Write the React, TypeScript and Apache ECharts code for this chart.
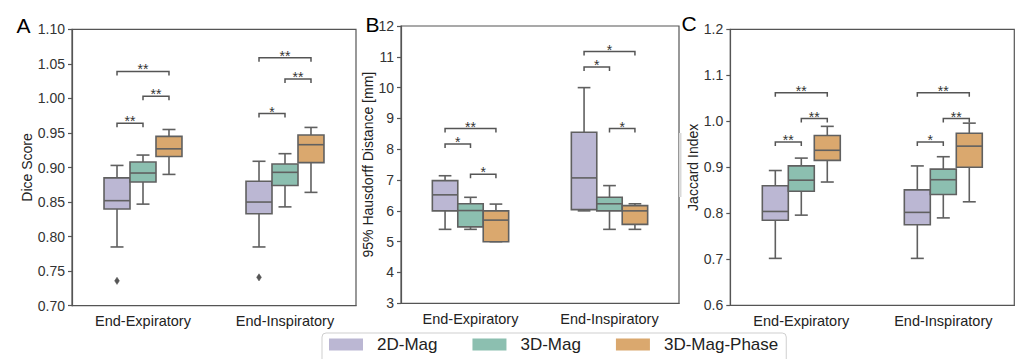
import React, { useEffect, useRef } from 'react';
import * as echarts from 'echarts';

const FONT = "'Liberation Sans', Arial, Helvetica, sans-serif";

const categories = ['End-Expiratory', 'End-Inspiratory'];
const groups = ['2D-Mag', '3D-Mag', '3D-Mag-Phase'];
const groupColors = ['#bbb7d3', '#8cbfb0', '#daa86e'];

// each row: [low whisker, q1, median, q3, high whisker] per category
const diceMag2D = [[0.785, 0.840, 0.852, 0.885, 0.903], [0.785, 0.833, 0.850, 0.880, 0.909]];
const diceMag3D = [[0.847, 0.879, 0.892, 0.908, 0.918], [0.843, 0.874, 0.893, 0.905, 0.920]];
const diceMagPhase = [[0.890, 0.916, 0.927, 0.945, 0.955], [0.864, 0.907, 0.933, 0.947, 0.958]];
// [category, group, value]
const diceOutliers = [[0, 0, 0.736], [1, 0, 0.741]];
// [category, fromGroup, toGroup, y]
const diceSig = [[0, 0, 1, 0.964], [0, 1, 2, 1.003], [0, 0, 2, 1.039], [1, 0, 1, 0.978], [1, 1, 2, 1.028], [1, 0, 2, 1.059]];
const diceSigLabels = ['**', '**', '**', '*', '**', '**'];

const hdMag2D = [[5.40, 6.0, 6.52, 6.98, 7.14], [6.0, 6.04, 7.07, 8.55, 10.0]];
const hdMag3D = [[5.40, 5.48, 6.01, 6.23, 6.44], [5.40, 6.0, 6.23, 6.44, 6.82]];
const hdMagPhase = [[5.0, 5.0, 5.70, 6.0, 6.22], [5.40, 5.56, 6.0, 6.17, 6.23]];
const hdOutliers: number[][] = [];
const hdSig = [[0, 1, 2, 7.19], [0, 0, 1, 8.17], [0, 0, 2, 8.67], [1, 1, 2, 8.67], [1, 0, 1, 10.67], [1, 0, 2, 11.17]];
const hdSigLabels = ['*', '*', '**', '*', '*', '*'];

const jacMag2D = [[0.702, 0.785, 0.804, 0.860, 0.893], [0.702, 0.775, 0.802, 0.851, 0.903]];
const jacMag3D = [[0.796, 0.848, 0.872, 0.903, 0.920], [0.790, 0.841, 0.873, 0.896, 0.923]];
const jacMagPhase = [[0.868, 0.915, 0.937, 0.969, 0.989], [0.825, 0.900, 0.946, 0.974, 0.996]];
const jacOutliers: number[][] = [];
const jacSig = [[0, 0, 1, 0.955], [0, 1, 2, 1.006], [0, 0, 2, 1.062], [1, 0, 1, 0.955], [1, 1, 2, 1.006], [1, 0, 2, 1.062]];
const jacSigLabels = ['**', '**', '**', '*', '**', '**'];

const panels = [
  { letter: 'A', title: 'Dice Score', min: 0.7, max: 1.1, interval: 0.05, digits: 2, boxes: [diceMag2D, diceMag3D, diceMagPhase], outliers: diceOutliers, sig: diceSig, sigLabels: diceSigLabels },
  { letter: 'B', title: '95% Hausdorff Distance [mm]', min: 3, max: 12, interval: 1, digits: 0, boxes: [hdMag2D, hdMag3D, hdMagPhase], outliers: hdOutliers, sig: hdSig, sigLabels: hdSigLabels },
  { letter: 'C', title: 'Jaccard Index', min: 0.6, max: 1.2, interval: 0.1, digits: 1, boxes: [jacMag2D, jacMag3D, jacMagPhase], outliers: jacOutliers, sig: jacSig, sigLabels: jacSigLabels },
];

const layout = [
  { left: 72, top: 29.3, width: 284, height: 276.4, nameGap: 36, letterX: 16.5, letterY: 27 },
  { left: 401, top: 26, width: 278, height: 277.3, nameGap: 22, letterX: 365.5, letterY: 26 },
  { left: 730.3, top: 29.3, width: 284, height: 276, nameGap: 27, letterX: 681.5, letterY: 24.5 },
];

const BOX_FRAC = 0.183;
const EDGE = '#606060';
const AXIS = '#555555';

function boxRenderer(gi: number, color: string) {
  return (params: any, api: any) => {
    const cat = api.value(0);
    const band = api.size([1, 0])[0];
    const bw = band * BOX_FRAC;
    const cx = api.coord([cat, api.value(3)])[0] + (gi - 1) * bw;
    const y = (k: number) => api.coord([cat, api.value(k)])[1];
    const yLow = y(1), yQ1 = y(2), yMed = y(3), yQ3 = y(4), yHigh = y(5);
    const ls = { stroke: EDGE, lineWidth: 1.6 };
    return {
      type: 'group',
      children: [
        { type: 'line', shape: { x1: cx, y1: yLow, x2: cx, y2: yQ1 }, style: ls },
        { type: 'line', shape: { x1: cx, y1: yQ3, x2: cx, y2: yHigh }, style: ls },
        { type: 'line', shape: { x1: cx - bw / 4, y1: yLow, x2: cx + bw / 4, y2: yLow }, style: ls },
        { type: 'line', shape: { x1: cx - bw / 4, y1: yHigh, x2: cx + bw / 4, y2: yHigh }, style: ls },
        { type: 'rect', shape: { x: cx - bw / 2, y: yQ3, width: bw, height: yQ1 - yQ3 }, style: { fill: color, stroke: EDGE, lineWidth: 1.6 } },
        { type: 'line', shape: { x1: cx - bw / 2, y1: yMed, x2: cx + bw / 2, y2: yMed }, style: ls },
      ],
    };
  };
}

function outlierRenderer(params: any, api: any) {
  const cat = api.value(0);
  const gi = api.value(1);
  const band = api.size([1, 0])[0];
  const bw = band * BOX_FRAC;
  const p = api.coord([cat, api.value(2)]);
  const cx = p[0] + (gi - 1) * bw;
  const cy = p[1];
  return {
    type: 'polygon',
    shape: { points: [[cx, cy - 3.6], [cx + 2.4, cy], [cx, cy + 3.6], [cx - 2.4, cy]] },
    style: { fill: '#555555', stroke: '#555555', lineWidth: 0.5 },
  };
}

function sigRenderer(labels: string[]) {
  return (params: any, api: any) => {
    const cat = api.value(0);
    const band = api.size([1, 0])[0];
    const bw = band * BOX_FRAC;
    const p = api.coord([cat, api.value(3)]);
    const x1 = p[0] + (api.value(1) - 1) * bw;
    const x2 = p[0] + (api.value(2) - 1) * bw;
    const yy = p[1];
    return {
      type: 'group',
      children: [
        { type: 'polyline', shape: { points: [[x1, yy + 4], [x1, yy], [x2, yy], [x2, yy + 4]] }, style: { stroke: '#555555', lineWidth: 1.5, fill: 'none' } },
        { type: 'text', x: (x1 + x2) / 2, y: yy - 2, style: { text: labels[params.dataIndex], fontSize: 14, fontFamily: FONT, fill: '#333333', align: 'center', verticalAlign: 'middle' } },
      ],
    };
  };
}

export default function App() {
  const ref = useRef<HTMLDivElement>(null);
  useEffect(() => {
    if (!ref.current) return;
    const chart = echarts.init(ref.current, undefined, { renderer: 'svg' });
    const grid: any[] = [];
    const xAxis: any[] = [];
    const yAxis: any[] = [];
    const series: any[] = [];
    const graphic: any[] = [];
    panels.forEach((pn, i) => {
      const L = layout[i];
      grid.push({ left: L.left, top: L.top, width: L.width, height: L.height, show: true, borderColor: AXIS, borderWidth: 1.2 });
      xAxis.push({
        gridIndex: i, type: 'category', data: categories, boundaryGap: true,
        axisLine: { lineStyle: { color: AXIS, width: 1.2 } },
        axisTick: { alignWithLabel: true, length: 4, lineStyle: { color: AXIS, width: 1.2 } },
        axisLabel: { fontSize: 14.5, color: '#222222', fontFamily: FONT, margin: 8 },
        splitLine: { show: false },
      });
      yAxis.push({
        gridIndex: i, type: 'value', min: pn.min, max: pn.max, interval: pn.interval,
        axisLine: { show: true, lineStyle: { color: AXIS, width: 1.2 } },
        axisTick: { show: true, length: 4, lineStyle: { color: AXIS, width: 1.2 } },
        axisLabel: { fontSize: 14, color: '#333333', fontFamily: FONT, margin: 7, formatter: (v: number) => v.toFixed(pn.digits) },
        splitLine: { show: false },
        name: pn.title, nameLocation: 'middle', nameGap: L.nameGap,
        nameTextStyle: { fontSize: 14, color: '#222222', fontFamily: FONT },
      });
      pn.boxes.forEach((rows, gi) => {
        series.push({
          type: 'custom', name: groups[gi], xAxisIndex: i, yAxisIndex: i,
          itemStyle: { color: groupColors[gi] },
          encode: { x: 0, y: [1, 2, 3, 4, 5] },
          data: rows.map((r, ci) => [ci, ...r]),
          renderItem: boxRenderer(gi, groupColors[gi]),
          clip: false,
        });
      });
      if (pn.outliers.length) {
        series.push({
          type: 'custom', name: 'outliers' + i, xAxisIndex: i, yAxisIndex: i,
          encode: { x: 0, y: 2 }, data: pn.outliers, renderItem: outlierRenderer,
        });
      }
      series.push({
        type: 'custom', name: 'sig' + i, xAxisIndex: i, yAxisIndex: i,
        encode: { x: 0, y: 3 }, data: pn.sig, renderItem: sigRenderer(pn.sigLabels),
      });
      graphic.push({
        type: 'text', left: L.letterX, top: L.letterY - 12,
        style: { text: pn.letter, fontSize: 21, fontFamily: FONT, fill: '#000000' },
      });
    });
    graphic.push({ type: 'rect', shape: { x: 679, y: 133, width: 2.5, height: 64 }, style: { fill: '#d9d9d9' } });
    chart.setOption({
      animation: false,
      backgroundColor: '#ffffff',
      textStyle: { fontFamily: FONT },
      grid, xAxis, yAxis, series, graphic,
      legend: {
        left: 322, top: 333, orient: 'horizontal', selectedMode: false,
        data: groups.map((n) => ({ name: n, icon: 'rect' })),
        itemWidth: 34, itemHeight: 12, itemGap: 35,
        padding: [3, 8, 14, 7],
        borderColor: '#cfcfcf', borderWidth: 1, borderRadius: 4,
        textStyle: { fontSize: 17, color: '#222222', fontFamily: FONT, padding: [0, 0, 0, 9] },
      },
    });
    return () => chart.dispose();
  }, []);
  return <div ref={ref} style={{ position: 'fixed', left: 0, top: 0, width: 1026, height: 359 }} />;
}
